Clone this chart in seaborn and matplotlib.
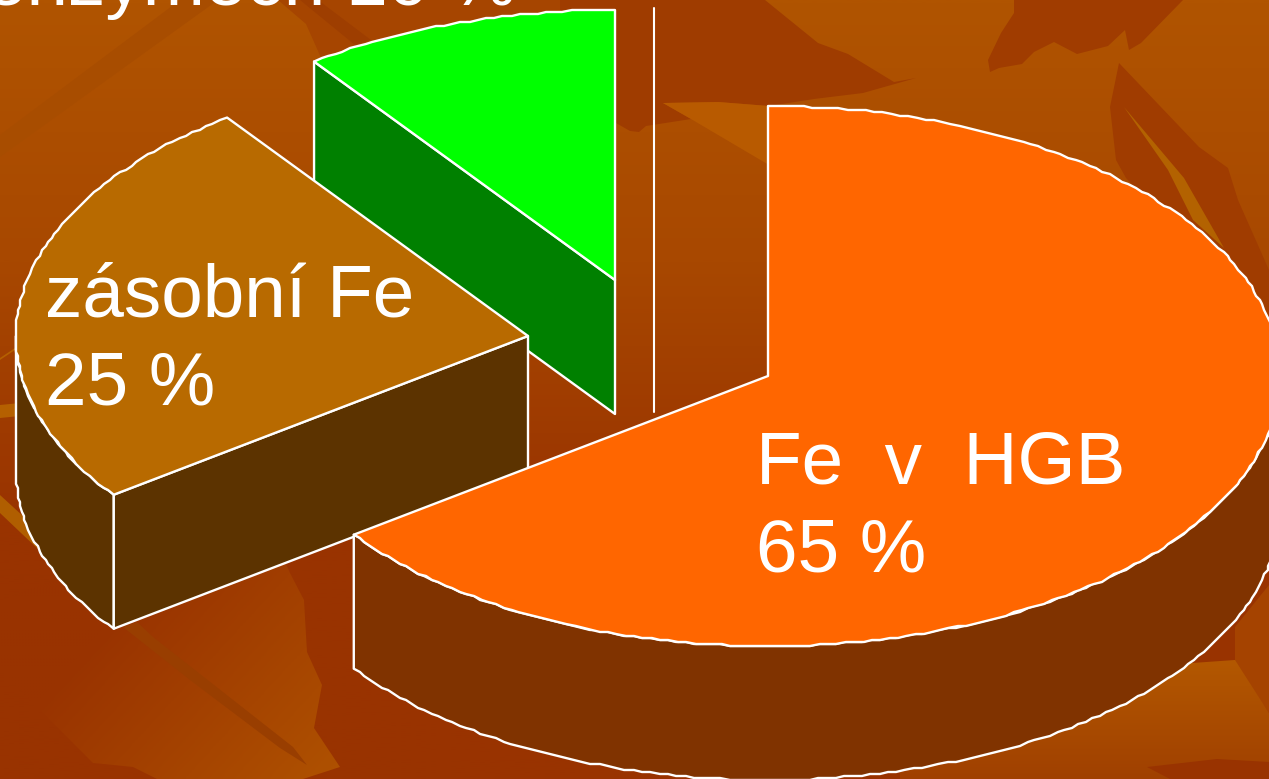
import numpy as np
import matplotlib
matplotlib.use("Agg")
import matplotlib.pyplot as plt
from matplotlib.patches import Polygon
import seaborn as sns

# data
label_lines = [["Fe  v  HGB", "65 %"], ["zásobní Fe", "25 %"], ["enzymech 10 %"]]
shares = [65, 25, 10]

# looks of the slices
top_colors = ["#FF6600", "#B86A00", "#00FF00"]
side_colors = ["#803300", "#5C3300", "#008000"]
apex_x = [768, 528, 615]
apex_y = [376, 336, 280]
label_x = [756, 45, -15]
label_y = [[483, 572], [316, 404], [5]]
rx, ry, depth = 512, 270, 134

sns.set_theme(style="white")
plt.rcParams["font.family"] = ["Liberation Sans", "DejaVu Sans"]

fig = plt.figure(figsize=(12.69, 7.79), dpi=100)
ax = fig.add_axes([0, 0, 1, 1])


def grad_fill(pts, c1, c2, p1, p2, z=1):
    # linear gradient from p1 to p2, clipped to a polygon
    xx, yy = np.meshgrid(np.arange(0, 1269, 3), np.arange(0, 779, 3))
    dx, dy = p2[0] - p1[0], p2[1] - p1[1]
    v = ((xx - p1[0]) * dx + (yy - p1[1]) * dy) / (dx * dx + dy * dy)
    cmap = sns.blend_palette([c1, c2], as_cmap=True)
    im = ax.imshow(np.clip(v, 0, 1), cmap=cmap, vmin=0, vmax=1, aspect="auto",
                   extent=[0, 1269, 779, 0], zorder=z)
    im.set_clip_path(Polygon(pts, closed=True, transform=ax.transData))


# background
base = sns.blend_palette(["#B05400", "#A84800", "#993300", "#993300"], as_cmap=True)
ax.imshow(np.linspace(0, 1, 400).reshape(-1, 1), cmap=base, aspect="auto",
          extent=[0, 1269, 779, 0], zorder=0)

shapes = [
    ([(0, 135), (180, 0), (218, 0), (0, 157)], "#A84D00"),
    ([(278, 0), (306, 24), (322, 60), (615, 160), (615, 0)], "#A64500"),
    ([(318, 0), (371, 40), (355, 45), (300, 0)], "#9E3E00"),
    ([(560, 0), (765, 0), (818, 43), (848, 54), (894, 82), (916, 78), (863, 93), (814, 99), (769, 106),
      (718, 102), (663, 103), (691, 119), (646, 126), (639, 132), (630, 131), (616, 123), (560, 90)], "#9F3C00"),
    ([(663, 103), (718, 102), (769, 106), (769, 165), (691, 119)], "#B85A00"),
    ([(1014, 0), (1014, 13), (1001, 33), (988, 60), (990, 72), (999, 68), (1022, 64), (1034, 52), (1054, 42),
      (1077, 54), (1108, 46), (1125, 30), (1129, 50), (1141, 43), (1183, 0)], "#A03C00"),
    ([(1119, 63), (1199, 147), (1228, 168), (1238, 200), (1269, 270), (1269, 330), (1126, 178), (1116, 160),
      (1110, 107)], "#A03C00"),
    ([(1124, 107), (1184, 178), (1224, 248), (1193, 220), (1168, 170)], "#B36200"),
    ([(1192, 663), (1235, 660), (1235, 627), (1210, 640)], "#993300"),
    ([(1235, 627), (1269, 585), (1269, 713), (1235, 664)], "#A54300"),
    ([(0, 405), (20, 403), (20, 416), (0, 418)], "#B56000"),
    ([(0, 358), (18, 346), (18, 348), (0, 360)], "#B56000"),
]
for pts, col in shapes:
    ax.add_patch(Polygon(pts, closed=True, fc=col, ec="none", zorder=1))

grad_fill([(0, 670), (93, 763), (133, 767), (157, 779), (303, 779), (340, 767), (314, 728), (322, 685),
           (307, 652), (304, 600), (290, 573), (280, 550), (115, 560), (0, 600)],
          "#993300", "#AE5000", (130, 600), (320, 775))
grad_fill([(1000, 662), (1192, 663), (1235, 660), (1269, 713), (1269, 779), (900, 779), (900, 662)],
          "#B35800", "#A04000", (1100, 660), (1100, 779))
ax.add_patch(Polygon([(1147, 767), (1217, 759), (1269, 762), (1269, 779), (1170, 779)], closed=True,
                     fc="#993300", ec="none", zorder=2))
ax.add_patch(Polygon([(123, 627), (137, 622), (153, 637), (293, 747), (307, 765), (280, 748), (190, 680)],
                     closed=True, fc="#993E00", ec="none", zorder=2))
ax.add_patch(Polygon([(0, 495), (60, 550), (60, 570), (0, 513)], closed=True, fc="#B05E00", ec="none", zorder=2))

# vertical rule next to the green slice
ax.plot([654, 654], [8, 412], color="white", lw=1.5, zorder=3)

# angles of the slices, clockwise from the top
edges = 90 - 3.6 * np.concatenate([[0], np.cumsum(shares)])


def arc(cx, cy, a1, a2):
    n = int(abs(a2 - a1)) + 2
    t = np.radians(np.linspace(a1, a2, n))
    x = cx + rx * np.cos(t)
    y = cy - ry * np.sin(t)
    # the outline of the original is stepped
    x[1:-1] = np.round(x[1:-1] / 2) * 2
    y[1:-1] = np.round(y[1:-1] / 2) * 2
    return np.column_stack([x, y])


def face(pts, col, z):
    ax.add_patch(Polygon(pts, closed=True, fc=col, ec="white", lw=1.7, joinstyle="round", zorder=z))


down = np.array([0, depth])
for order, i in enumerate([2, 1, 0]):
    c = np.array([apex_x[i], apex_y[i]], dtype=float)
    a1, a2 = edges[i], edges[i + 1]
    z = 4 + order * 3
    rim = arc(c[0], c[1], a1, a2)
    if i == 2:
        # inner cut of the green slice
        face([rim[0], c, c + down, rim[0] + down], side_colors[i], z)
    if i == 1:
        # outer wall on the left, then the cut towards the viewer
        wall = arc(c[0], c[1], a1, -180)
        face(np.vstack([wall, wall[::-1] + down]), side_colors[i], z)
        face([wall[0], c, c + down, wall[0] + down], side_colors[i], z)
    if i == 0:
        wall = arc(c[0], c[1], a2, 0)
        face(np.vstack([wall, wall[::-1] + down]), side_colors[i], z)
    face(np.vstack([c, rim]), top_colors[i], z + 1)

for i in range(3):
    for line, y in zip(label_lines[i], label_y[i]):
        ax.text(label_x[i], y, line, color="white", fontsize=53.8, ha="left", va="baseline", zorder=20)

ax.set_xlim(0, 1269)
ax.set_ylim(779, 0)
ax.axis("off")
fig.savefig("out.png", dpi=100)
